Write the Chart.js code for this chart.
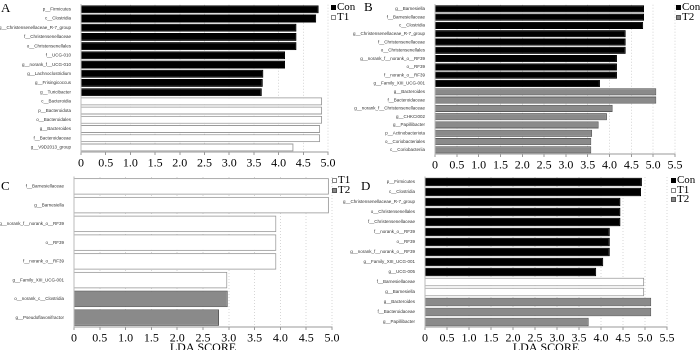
<!DOCTYPE html>
<html>
<head>
<meta charset="utf-8">
<script src="https://cdn.jsdelivr.net/npm/chart.js@4"></script>
<style>
  body { margin:0; width:700px; height:350px; position:relative; overflow:hidden; background:#fff; }
  canvas { position:absolute; }
  .tag { position:absolute; font-family:"Liberation Serif"; font-size:13px; line-height:13px; color:#000; }
  .key { position:absolute; font-family:"Liberation Serif"; font-size:11px; line-height:9.5px; color:#000; white-space:nowrap; }
  .sq { display:inline-block; width:5px; height:5px; margin-right:1px; box-sizing:border-box; vertical-align:0px; }
  .con { background:#000; border:1px solid #000; }
  .t1 { background:#fff; border:1px solid #888; }
  .t2 { background:#8a8a8a; border:1px solid #555; }
</style>
</head>
<body>
<canvas id="cA" width="340" height="172" style="left:0;top:0"></canvas>
<canvas id="cB" width="362" height="174" style="left:338px;top:0"></canvas>
<canvas id="cC" width="345" height="183" style="left:0;top:172px"></canvas>
<canvas id="cD" width="365" height="183" style="left:335px;top:172px"></canvas>

<div class="tag" style="left:1px;top:1px">A</div>
<div class="tag" style="left:364px;top:0px">B</div>
<div class="tag" style="left:1px;top:179px">C</div>
<div class="tag" style="left:361px;top:179px">D</div>

<div class="key" style="left:331px;top:2px"><span class="sq con"></span>Con<br><span class="sq t1"></span>T1</div>
<div class="key" style="left:676px;top:2px"><span class="sq con"></span>Con<br><span class="sq t2"></span>T2</div>
<div class="key" style="left:332px;top:175px"><span class="sq t1"></span>T1<br><span class="sq t2"></span>T2</div>
<div class="key" style="left:671px;top:175px"><span class="sq con"></span>Con<br><span class="sq t1"></span>T1<br><span class="sq t2"></span>T2</div>

<script>
// PANEL A : Con vs T1
const aLabels = ["p__Firmicutes", "c__Clostridia", "g__Christensenellaceae_R-7_group", "f__Christensenellaceae",
  "o__Christensenellales", "f__UCG-010", "g__norank_f__UCG-010", "g__Lachnoclostridium", "g__Frisingicoccus",
  "g__Turicibacter", "c__Bacteroidia", "p__Bacteroidota", "o__Bacteroidales", "g__Bacteroides",
  "f__Bacteroidaceae", "g__V9D2013_group"];
const aValues = [4.81, 4.76, 4.36, 4.36, 4.36, 4.13, 4.13, 3.69, 3.68, 3.66, 4.88, 4.88, 4.88, 4.84, 4.84, 4.30];
const aGroups = ["Con","Con","Con","Con","Con","Con","Con","Con","Con","Con","T1","T1","T1","T1","T1","T1"];

// PANEL B : Con vs T2
const bLabels = ["g__Barnesiella", "f__Barnesiellaceae", "c__Clostridia", "g__Christensenellaceae_R-7_group",
  "f__Christensenellaceae", "o__Christensenellales", "g__norank_f__norank_o__RF39", "o__RF39",
  "f__norank_o__RF39", "g__Family_XIII_UCG-001", "g__Bacteroides", "f__Bacteroidaceae",
  "g__norank_f__Christensenellaceae", "g__CHKCI002", "g__Papillibacter", "p__Actinobacteriota",
  "o__Coriobacteriales", "c__Coriobacteriia"];
const bValues = [4.79, 4.79, 4.77, 4.37, 4.37, 4.37, 4.17, 4.17, 4.17, 3.78, 5.07, 5.07, 4.07, 3.94, 3.75, 3.60, 3.58, 3.58];
const bGroups = ["Con","Con","Con","Con","Con","Con","Con","Con","Con","Con","T2","T2","T2","T2","T2","T2","T2","T2"];

// PANEL C : T1 vs T2
const cLabels = ["f__Barnesiellaceae", "g__Barnesiella", "g__norank_f__norank_o__RF39", "o__RF39",
  "f__norank_o__RF39", "g__Family_XIII_UCG-001", "o__norank_c__Clostridia", "g__Pseudoflavonifractor"];
const cValues = [4.94, 4.94, 3.92, 3.92, 3.92, 2.97, 2.98, 2.81];
const cGroups = ["T1","T1","T1","T1","T1","T1","T2","T2"];

// PANEL D : Con vs T1 vs T2
const dLabels = ["p__Firmicutes", "c__Clostridia", "g__Christensenellaceae_R-7_group", "o__Christensenellales",
  "f__Christensenellaceae", "f__norank_o__RF39", "o__RF39", "g__norank_f__norank_o__RF39",
  "g__Family_XIII_UCG-001", "g__UCG-005", "f__Barnesiellaceae", "g__Barnesiella", "g__Bacteroides",
  "f__Bacteroidaceae", "g__Papillibacter"];
const dValues = [4.93, 4.91, 4.44, 4.44, 4.44, 4.20, 4.20, 4.20, 4.05, 3.89, 4.98, 4.98, 5.14, 5.14, 3.72];
const dGroups = ["Con","Con","Con","Con","Con","Con","Con","Con","Con","Con","T1","T1","T2","T2","T2"];

const fill = { Con: "#000000", T1: "#ffffff", T2: "#8a8a8a" };
const edge = { Con: "#000000", T1: "#9a9a9a", T2: "#5c5c5c" };

// render at 2x and let the browser scale down, so the tiny labels keep true widths
function panel(id, labels, values, groups, xmax, yWidth, pad, xHeight, barPct, showTitle) {
  return new Chart(document.getElementById(id), {
    type: "bar",
    data: { labels, datasets: [{
      data: values,
      backgroundColor: groups.map(g => fill[g]),
      borderColor: groups.map(g => edge[g]),
      borderWidth: 1,
      barPercentage: barPct,
      categoryPercentage: 1
    }] },
    options: {
      indexAxis: "y",
      responsive: false,
      devicePixelRatio: 2,
      animation: false,
      layout: { padding: pad },
      plugins: { legend: { display: false }, tooltip: { enabled: false } },
      scales: {
        x: {
          min: 0, max: xmax,
          afterFit: s => { s.height = xHeight; },
          ticks: {
            stepSize: 0.5, autoSkip: false, maxRotation: 0, padding: 1, color: "#000",
            font: { family: "Liberation Serif", size: 12 },
            callback: v => v === 0 ? "0" : v.toFixed(1)
          },
          grid: { color: "#d6d6d6", tickLength: 3, tickColor: "#999" },
          border: { color: "#999", width: 1, dash: [1, 2] },
          title: {
            display: showTitle, text: "LDA SCORE", color: "#000", padding: 0,
            font: { family: "Liberation Serif", size: 12 }
          }
        },
        y: {
          afterFit: s => { s.width = yWidth; },
          grid: { display: false },
          border: { display: true, color: "#bbb" },
          ticks: { autoSkip: false, padding: 2, color: "#333", font: { family: "Liberation Sans", size: 4.5 } }
        }
      }
    }
  });
}

panel("cA", aLabels, aValues, aGroups, 5, 81, { top: 4, right: 12, left: 0, bottom: 0 }, 20, 0.86, false);
panel("cB", bLabels, bValues, bGroups, 5.5, 97, { top: 4, right: 25, left: 0, bottom: 0 }, 20, 0.86, false);
panel("cC", cLabels, cValues, cGroups, 5, 74, { top: 5, right: 13, left: 0, bottom: 0 }, 28, 0.88, true);
panel("cD", dLabels, dValues, dGroups, 5.5, 90, { top: 5, right: 33, left: 0, bottom: 0 }, 28, 0.86, true);
</script>
</body>
</html>
